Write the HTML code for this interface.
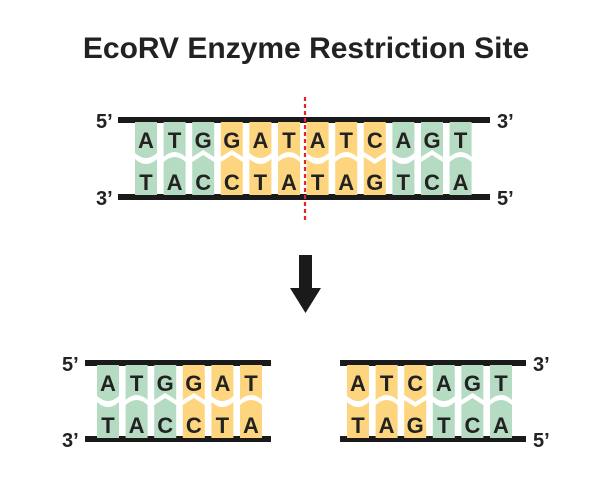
<!DOCTYPE html>
<html><head><meta charset="utf-8"><style>
html,body{margin:0;padding:0;background:#fff;}
svg{display:block;font-family:"Liberation Sans",Arial,sans-serif;font-weight:bold;}
</style></head><body>
<svg width="612" height="489" viewBox="0 0 612 489" xmlns="http://www.w3.org/2000/svg">
<defs>
<path id="tA" d="M0,122 H22 V153 Q11,163 0,153 Z"/>
<path id="bT" d="M0,159 Q11,169 22,159 V195 H0 Z"/>
<path id="tT" d="M0,122 H22 V157 Q11,147 0,157 Z"/>
<path id="bA" d="M0,162 Q11,152 22,162 V195 H0 Z"/>
<path id="tG" d="M0,122 H22 V157 L11,150 L0,157 Z"/>
<path id="bC" d="M0,162 L11,155 L22,162 V195 H0 Z"/>
<path id="tC" d="M0,122 H22 V152 L11,159 L0,152 Z"/>
<path id="bG" d="M0,157 L11,164 L22,157 V195 H0 Z"/>
</defs>
<text x="306" y="58" font-size="30" text-anchor="middle" fill="#222">EcoRV Enzyme Restriction Site</text>

<rect x="118" y="117" width="372" height="6" fill="#1a1a1a"/>
<rect x="118" y="194" width="372" height="6" fill="#1a1a1a"/>
<g font-size="20" fill="#222">
<text x="96" y="128">5’</text><text x="497" y="128">3’</text>
<text x="96" y="205">3’</text><text x="497" y="205">5’</text>
</g>
<g font-size="22" fill="#222" text-anchor="middle">
<g transform="translate(135,0)" fill="#b5dcc3"><use href="#tA"/><use href="#bT"/></g>
<g transform="translate(163.6,0)" fill="#b5dcc3"><use href="#tT"/><use href="#bA"/></g>
<g transform="translate(192.2,0)" fill="#b5dcc3"><use href="#tG"/><use href="#bC"/></g>
<g transform="translate(220.8,0)" fill="#fdd57e"><use href="#tG"/><use href="#bC"/></g>
<g transform="translate(249.4,0)" fill="#fdd57e"><use href="#tA"/><use href="#bT"/></g>
<g transform="translate(278,0)" fill="#fdd57e"><use href="#tT"/><use href="#bA"/></g>
<g transform="translate(306.6,0)" fill="#fdd57e"><use href="#tA"/><use href="#bT"/></g>
<g transform="translate(335.2,0)" fill="#fdd57e"><use href="#tT"/><use href="#bA"/></g>
<g transform="translate(363.8,0)" fill="#fdd57e"><use href="#tC"/><use href="#bG"/></g>
<g transform="translate(392.4,0)" fill="#b5dcc3"><use href="#tA"/><use href="#bT"/></g>
<g transform="translate(421,0)" fill="#b5dcc3"><use href="#tG"/><use href="#bC"/></g>
<g transform="translate(449.6,0)" fill="#b5dcc3"><use href="#tT"/><use href="#bA"/></g>
<text x="146" y="148">A</text><text x="146" y="190">T</text>
<text x="174.6" y="148">T</text><text x="174.6" y="190">A</text>
<text x="203.2" y="148">G</text><text x="203.2" y="190">C</text>
<text x="231.8" y="148">G</text><text x="231.8" y="190">C</text>
<text x="260.4" y="148">A</text><text x="260.4" y="190">T</text>
<text x="289" y="148">T</text><text x="289" y="190">A</text>
<text x="317.6" y="148">A</text><text x="317.6" y="190">T</text>
<text x="346.2" y="148">T</text><text x="346.2" y="190">A</text>
<text x="374.8" y="148">C</text><text x="374.8" y="190">G</text>
<text x="403.4" y="148">A</text><text x="403.4" y="190">T</text>
<text x="432" y="148">G</text><text x="432" y="190">C</text>
<text x="460.6" y="148">T</text><text x="460.6" y="190">A</text>
</g>
<line x1="305" y1="97" x2="305" y2="222" stroke="#e0262a" stroke-width="2.2" stroke-dasharray="4,3"/>

<rect x="299" y="255" width="13" height="33" fill="#1a1a1a"/>
<polygon points="290,288 321,288 305.5,313" fill="#1a1a1a"/>

<rect x="85" y="360" width="186" height="6" fill="#1a1a1a"/>
<rect x="85" y="436" width="186" height="6" fill="#1a1a1a"/>
<rect x="340" y="360" width="186" height="6" fill="#1a1a1a"/>
<rect x="340" y="436" width="186" height="6" fill="#1a1a1a"/>
<g font-size="20" fill="#222">
<text x="62" y="371">5’</text><text x="62" y="447">3’</text>
<text x="533" y="371">3’</text><text x="533" y="447">5’</text>
</g>
<g transform="translate(0,243)" font-size="22" fill="#222" text-anchor="middle">
<g transform="translate(97,0)" fill="#b5dcc3"><use href="#tA"/><use href="#bT"/></g>
<g transform="translate(125.6,0)" fill="#b5dcc3"><use href="#tT"/><use href="#bA"/></g>
<g transform="translate(154.2,0)" fill="#b5dcc3"><use href="#tG"/><use href="#bC"/></g>
<g transform="translate(182.8,0)" fill="#fdd57e"><use href="#tG"/><use href="#bC"/></g>
<g transform="translate(211.4,0)" fill="#fdd57e"><use href="#tA"/><use href="#bT"/></g>
<g transform="translate(240,0)" fill="#fdd57e"><use href="#tT"/><use href="#bA"/></g>
<text x="108" y="148">A</text><text x="108" y="190">T</text>
<text x="136.6" y="148">T</text><text x="136.6" y="190">A</text>
<text x="165.2" y="148">G</text><text x="165.2" y="190">C</text>
<text x="193.8" y="148">G</text><text x="193.8" y="190">C</text>
<text x="222.4" y="148">A</text><text x="222.4" y="190">T</text>
<text x="251" y="148">T</text><text x="251" y="190">A</text>

<g transform="translate(347,0)" fill="#fdd57e"><use href="#tA"/><use href="#bT"/></g>
<g transform="translate(375.6,0)" fill="#fdd57e"><use href="#tT"/><use href="#bA"/></g>
<g transform="translate(404.2,0)" fill="#fdd57e"><use href="#tC"/><use href="#bG"/></g>
<g transform="translate(432.8,0)" fill="#b5dcc3"><use href="#tA"/><use href="#bT"/></g>
<g transform="translate(461.4,0)" fill="#b5dcc3"><use href="#tG"/><use href="#bC"/></g>
<g transform="translate(490,0)" fill="#b5dcc3"><use href="#tT"/><use href="#bA"/></g>
<text x="358" y="148">A</text><text x="358" y="190">T</text>
<text x="386.6" y="148">T</text><text x="386.6" y="190">A</text>
<text x="415.2" y="148">C</text><text x="415.2" y="190">G</text>
<text x="443.8" y="148">A</text><text x="443.8" y="190">T</text>
<text x="472.4" y="148">G</text><text x="472.4" y="190">C</text>
<text x="501" y="148">T</text><text x="501" y="190">A</text>
</g>
</svg>
</body></html>
